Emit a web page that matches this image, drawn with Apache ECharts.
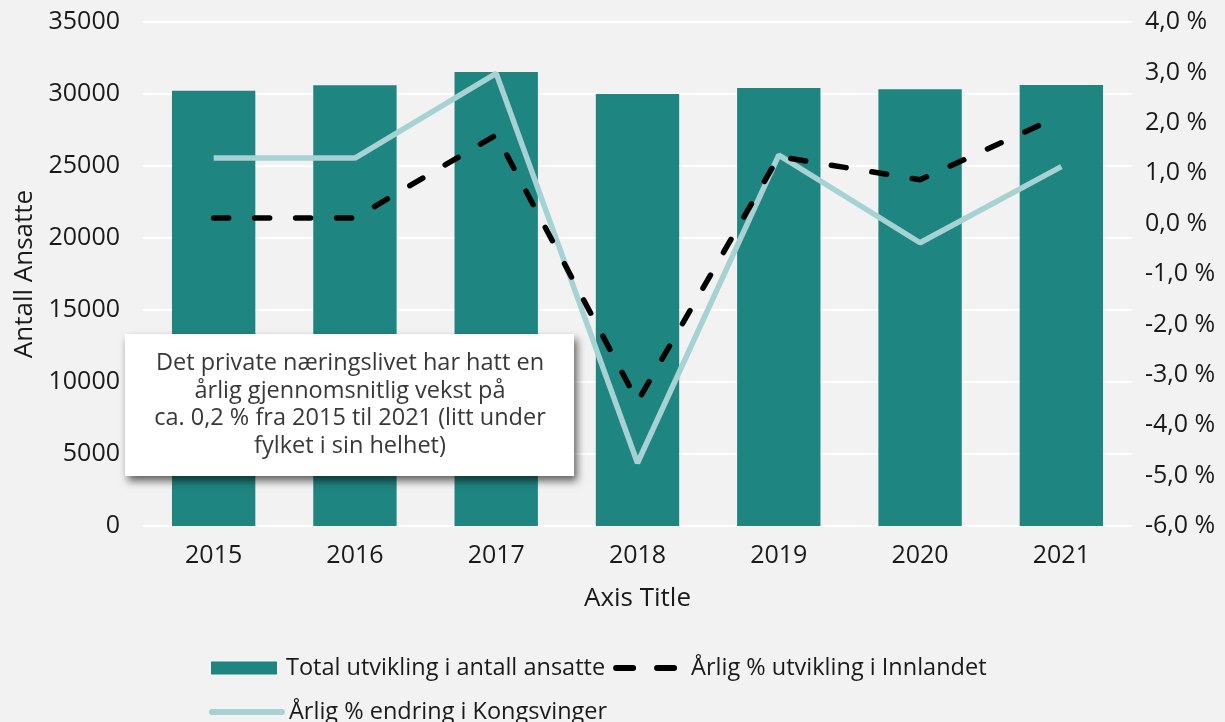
<!DOCTYPE html>
<html>
<head>
<meta charset="utf-8">
<script src="https://cdn.jsdelivr.net/npm/echarts@6/dist/echarts.min.js"></script>
<style>
  html, body { margin: 0; padding: 0; background: #f2f2f2; }
  #main { width: 1225px; height: 722px; }
</style>
</head>
<body>
<div id="main"></div>
<script>
var years = ['2015', '2016', '2017', '2018', '2019', '2020', '2021'];
var ansatte = [30230, 30600, 31530, 30000, 30420, 30330, 30620];
var innlandet = [0.11, 0.11, 1.76, -3.53, 1.33, 0.87, 2.15];
var kongsvinger = [1.30, 1.30, 2.98, -4.75, 1.36, -0.38, 1.13];
var noteLines = [
  'Det private næringslivet har hatt en',
  'årlig gjennomsnitlig vekst på',
  'ca. 0,2 % fra 2015 til 2021 (litt under',
  'fylket i sin helhet)'
];

var font = '"Open Sans", sans-serif';
var txt = '#1a1a1a';
var dash = [15, 26];
var dom = document.getElementById('main');
var myChart = echarts.init(dom);

var hideDot = { color: 'rgba(0,0,0,0)', borderWidth: 0 };

var option = {
  backgroundColor: '#f2f2f2',
  textStyle: { fontFamily: font, color: txt },
  grid: { left: 143, right: 93, top: 22, bottom: 196 },
  legend: [
    {
      left: 206,
      top: 651,
      itemGap: 8,
      itemWidth: 66,
      itemHeight: 13,
      textStyle: { fontSize: 23.5, color: txt, fontFamily: font, padding: [0, 0, 0, 4] },
      data: [
        { name: 'Total utvikling i antall ansatte', icon: 'rect' },
        {
          name: 'Årlig % utvikling i Innlandet',
          itemStyle: hideDot,
          lineStyle: { color: '#000', width: 6, type: [17, 24], cap: 'round' }
        }
      ]
    },
    {
      left: 204,
      top: 695,
      itemWidth: 70,
      itemHeight: 13,
      textStyle: { fontSize: 23.5, color: txt, fontFamily: font, padding: [0, 0, 0, 2] },
      data: [
        {
          name: 'Årlig % endring i Kongsvinger',
          itemStyle: hideDot,
          lineStyle: { color: '#a6d2d4', width: 6, cap: 'round' }
        }
      ]
    }
  ],
  xAxis: {
    type: 'category',
    data: years,
    axisLine: { show: false },
    axisTick: { show: false },
    axisLabel: { fontSize: 25, color: txt, margin: 17 },
    name: 'Axis Title',
    nameLocation: 'middle',
    nameGap: 60,
    nameTextStyle: { fontSize: 26, color: txt }
  },
  yAxis: [
    {
      type: 'value',
      min: 0,
      max: 35000,
      interval: 5000,
      axisLine: { show: false },
      axisTick: { show: false },
      axisLabel: { fontSize: 25, color: txt, margin: 23, formatter: function (v) { return String(v); } },
      splitLine: { lineStyle: { color: '#ffffff', width: 2 } },
      name: 'Antall Ansatte',
      nameLocation: 'middle',
      nameGap: 96,
      nameTextStyle: { fontSize: 26, color: txt }
    },
    {
      type: 'value',
      min: -6,
      max: 4,
      interval: 1,
      axisLine: { show: false },
      axisTick: { show: false },
      splitLine: { show: false },
      axisLabel: {
        fontSize: 25,
        color: txt,
        margin: 13,
        formatter: function (v) { return v.toFixed(1).replace('.', ',') + ' %'; }
      }
    }
  ],
  series: [
    {
      name: 'Total utvikling i antall ansatte',
      type: 'bar',
      data: ansatte,
      barCategoryGap: '41%',
      itemStyle: { color: '#1f8580' },
      z: 1
    },
    {
      name: 'Årlig % utvikling i Innlandet',
      type: 'line',
      yAxisIndex: 1,
      data: innlandet,
      symbol: 'none',
      lineStyle: { color: '#000000', width: 5.5, type: dash, cap: 'round' },
      itemStyle: { color: '#000000' },
      z: 3
    },
    {
      name: 'Årlig % endring i Kongsvinger',
      type: 'line',
      yAxisIndex: 1,
      data: kongsvinger,
      symbol: 'none',
      lineStyle: { color: '#a6d2d4', width: 5.5 },
      itemStyle: { color: '#a6d2d4' },
      z: 2
    }
  ],
  graphic: [
    {
      type: 'rect',
      left: 125,
      top: 334,
      z: 100,
      shape: { width: 449, height: 142 },
      style: {
        fill: '#ffffff',
        shadowBlur: 8,
        shadowOffsetX: 3,
        shadowOffsetY: 5,
        shadowColor: 'rgba(0,0,0,0.6)'
      }
    },
    {
      type: 'text',
      x: 350,
      y: 405,
      z: 101,
      style: {
        text: noteLines.join('\n'),
        fill: '#383838',
        font: '23.5px ' + font,
        align: 'center',
        verticalAlign: 'middle',
        lineHeight: 27.5
      }
    }
  ]
};

if (option && typeof option === 'object') {
  myChart.setOption(option, true);
}
</script>
</body>
</html>
